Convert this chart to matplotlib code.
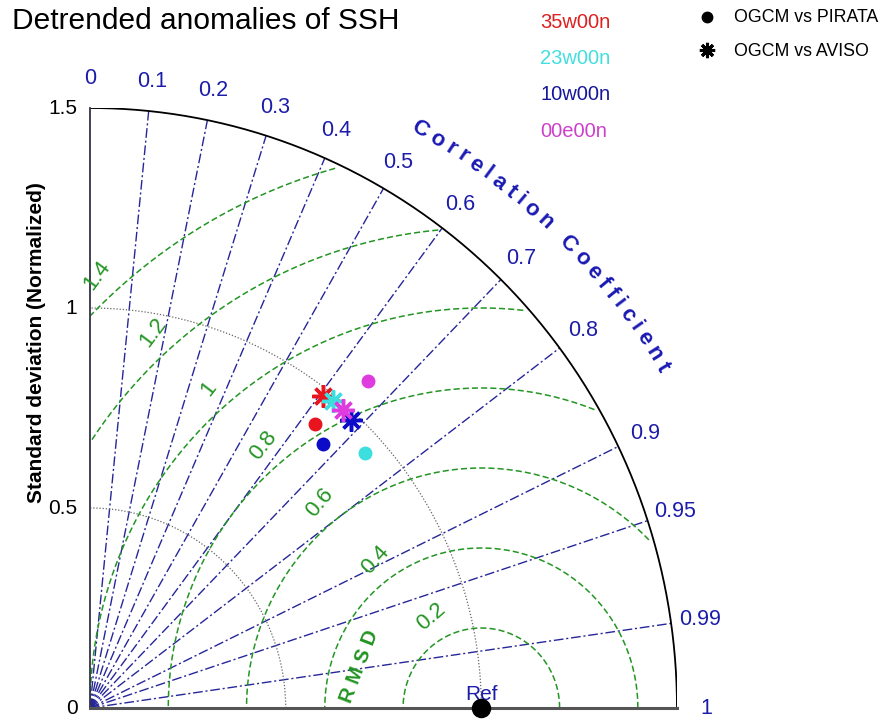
import numpy as np
import matplotlib
matplotlib.use("Agg")
import matplotlib.pyplot as plt
from matplotlib.textpath import TextToPath
from matplotlib.font_manager import FontProperties

plt.rcParams['font.family'] = ['Liberation Sans', 'DejaVu Sans']

# ---------------- data ----------------
title = "Detrended anomalies of SSH"
stations = ["35w00n", "23w00n", "10w00n", "00e00n"]
point_colors = ["#e8141e", "#3cdede", "#0c0cc8", "#de3cde"]
label_colors = ["#dd2020", "#44dede", "#16169a", "#cc40cc"]
# OGCM vs PIRATA (filled dots): normalized std and correlation
pirata_std = [0.914, 0.948, 0.889, 1.084]
pirata_corr = [0.629, 0.740, 0.670, 0.656]
# OGCM vs AVISO (asterisks)
aviso_std = [0.981, 0.988, 0.982, 0.987]
aviso_corr = [0.606, 0.629, 0.680, 0.656]
marker_labels = ["OGCM vs PIRATA", "OGCM vs AVISO"]

corr_ticks = [0, 0.1, 0.2, 0.3, 0.4, 0.5, 0.6, 0.7, 0.8, 0.9, 0.95, 0.99, 1]
corr_tick_labels = ["0", "0.1", "0.2", "0.3", "0.4", "0.5", "0.6", "0.7", "0.8", "0.9", "0.95", "0.99", "1"]
std_ticks = [0, 0.5, 1, 1.5]
std_tick_labels = ["0", "0.5", "1", "1.5"]
std_arcs = [0.5, 1.0]
rmsd_levels = [0.2, 0.4, 0.6, 0.8, 1.0, 1.2, 1.4]
rmsd_labels = ["0.2", "0.4", "0.6", "0.8", "1", "1.2", "1.4"]
ref_std = 1.0
max_std = 1.5

# ---------------- figure ----------------
W, H = 893, 727
fig = plt.figure(figsize=(W / 100, H / 100), dpi=100)
ox, oy = 90, 708          # pixel of origin
wpx, hpx = 587, 600       # pixel size of 1.5 units
ax = fig.add_axes([ox / W, (H - oy) / H, wpx / W, hpx / H])
ax.set_xlim(0, max_std)
ax.set_ylim(0, max_std)
ax.axis("off")
sx, sy = wpx / max_std, hpx / max_std

blue_lbl = "#1c1caa"
green = "#239523"
corr_line = "#26269a"

# correlation rays
for c in corr_ticks[1:-1]:
    th = np.arccos(c)
    ax.plot([0, max_std * np.cos(th)], [0, max_std * np.sin(th)], color=corr_line,
            lw=1.0, ls=(0, (7, 2, 1.5, 2)), zorder=2)

# correlation labels
for c, lab in zip(corr_ticks, corr_tick_labels):
    th = np.arccos(c)
    r = 1.575
    ax.text(r * np.cos(th), r * np.sin(th), lab, color=blue_lbl, fontsize=15.5,
            ha="center", va="center", clip_on=False)

# std arcs (dotted)
t = np.linspace(0, np.pi / 2, 300)
for s in std_arcs:
    ax.plot(s * np.cos(t), s * np.sin(t), color="#666666", lw=0.9, ls=(0, (1, 1.5)), zorder=2)
ax.plot(max_std * np.cos(t), max_std * np.sin(t), color="black", lw=1.3, zorder=3)
ax.plot([0, 0], [0, max_std], color="#333344", lw=1.3, zorder=3, clip_on=False)
ax.plot([0, max_std], [0, 0], color="#555555", lw=2.2, zorder=3, clip_on=False)

# std tick labels
for s, lab in zip(std_ticks, std_tick_labels):
    ax.text(-0.032, s, lab, fontsize=15, ha="right", va="center", color="black")

# RMSD circles
tt = np.linspace(0, np.pi, 600)
for R, lab in zip(rmsd_levels, rmsd_labels):
    x = ref_std + R * np.cos(tt)
    y = R * np.sin(tt)
    m = (x ** 2 + y ** 2 <= (max_std - 0.01) ** 2) & (x >= 0)
    x = np.where(m, x, np.nan)
    y = np.where(m, y, np.nan)
    ax.plot(x, y, color=green, lw=1.1, ls=(0, (4, 2)), zorder=2)
    # label on the line x + y = 1.1, slightly outside the circle
    d = R + 0.06
    k = 0.1
    u = (-k + np.sqrt(2 * d ** 2 - k ** 2)) / 2
    lx, ly = ref_std - u, k + u
    ang = np.degrees(np.arctan2(ly * sy, (lx - ref_std) * sx)) - 90 + 12
    ax.text(lx, ly, lab, color=green, fontsize=16, rotation=ang,
            ha="center", va="center", rotation_mode="anchor")

ax.text(0.69, 0.105, "R M S D", color=green, fontsize=14.5, fontweight="bold",
        rotation=69, ha="center", va="center", rotation_mode="anchor")

# reference point
ax.plot([ref_std], [0], "o", color="black", ms=13, clip_on=False, zorder=6)
ax.text(ref_std, 0.033, "Ref", color=blue_lbl, fontsize=15, ha="center", va="center")

# data points
for i in range(len(stations)):
    th = np.arccos(pirata_corr[i])
    ax.plot(pirata_std[i] * np.cos(th), pirata_std[i] * np.sin(th), "o",
            color=point_colors[i], ms=9, zorder=5)
for i in range(len(stations)):
    th = np.arccos(aviso_corr[i])
    ax.plot(aviso_std[i] * np.cos(th), aviso_std[i] * np.sin(th),
            marker=(8, 2, 0), color=point_colors[i], ms=16, mew=2.5, ls="none", zorder=5)

# ---------------- overlay in pixel coordinates ----------------
ov = fig.add_axes([0, 0, 1, 1], facecolor="none")
ov.set_xlim(0, W)
ov.set_ylim(H, 0)
ov.axis("off")

ov.text(12, 21, title, fontsize=21.5, ha="left", va="center")
ov.text(37, 343, "Standard deviation (Normalized)", fontsize=15, fontweight="bold",
        rotation=90, ha="center", va="center")

for i, (st, col) in enumerate(zip(stations, label_colors)):
    ov.text(540, 22 + i * 36.5, st, color=col, fontsize=14.5, ha="left", va="center")

ov.plot([707], [17], "o", color="black", ms=7.5)
ov.plot([707], [50], marker=(8, 2, 0), color="black", ms=11, mew=2.2, ls="none")
ov.text(734, 18, marker_labels[0], fontsize=12.8, ha="left", va="center")
ov.text(734, 51, marker_labels[1], fontsize=12.8, ha="left", va="center")

# "Correlation Coefficient" along an arc
arc_text = "Correlation Coefficient"
fs = 16
fp = FontProperties(family="Liberation Sans", weight="bold", size=fs)
ttp = TextToPath()
widths = []
for ch in arc_text:
    if ch == " ":
        widths.append(0.278 * fs * 100 / 72)
    else:
        w, h, d = ttp.get_text_width_height_descent(ch, fp, ismath=False)
        widths.append(w * 100 / 72)
widths = np.array(widths)
Rpx = 666
th0, th1 = np.radians(60.3), np.radians(30.8)
span = (th0 - th1) * Rpx
base = np.concatenate([[0], np.cumsum(widths)[:-1]]) + widths / 2
n = len(arc_text)
gap = (span - (base[-1] - base[0])) / (n - 1)
centers = base - base[0] + np.arange(n) * gap
for ch, c in zip(arc_text, centers):
    th = th0 - c / Rpx
    px = ox + Rpx * np.cos(th)
    py = oy - Rpx * np.sin(th)
    ov.text(px, py, ch, color="#1a1ab4", fontsize=fs, fontweight="bold",
            rotation=np.degrees(th) - 90, ha="center", va="center", rotation_mode="anchor")

fig.savefig("out.png", dpi=100)
